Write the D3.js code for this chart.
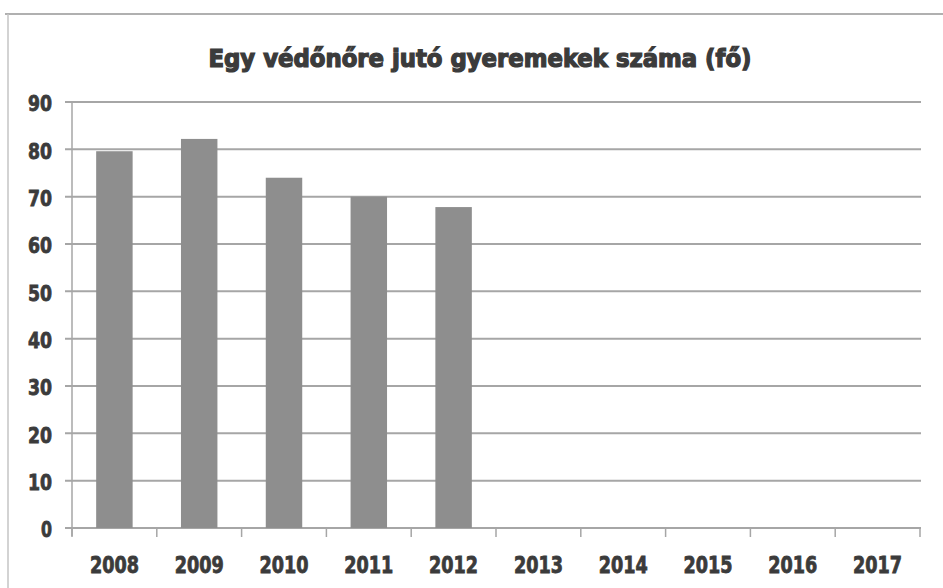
<!DOCTYPE html>
<html>
<head>
<meta charset="utf-8">
<script src="https://cdn.jsdelivr.net/npm/d3@7"></script>
<style>
  html, body { margin: 0; padding: 0; background: #fff; }
  svg { display: block; }
</style>
</head>
<body>
<svg id="chart" width="943" height="588"></svg>
<script>
// data
var years = ["2008", "2009", "2010", "2011", "2012", "2013", "2014", "2015", "2016", "2017"];
var values = [79.6, 82.2, 74, 70, 67.8, null, null, null, null, null];
var yTicks = [0, 10, 20, 30, 40, 50, 60, 70, 80, 90];
var title = "Egy védőnőre jutó gyeremekek száma (fő)";

var svg = d3.select("#chart");
var font = "'DejaVu Sans Condensed', 'DejaVu Sans', sans-serif";
var textColor = "#3b3b3b";
var lineColor = "#a6a6a6";

// plot area edges (not "top" — that's window.top)
var plotL = 72, plotR = 920, plotT = 102, plotB = 528;

var x = d3.scaleBand().domain(years).range([plotL, plotR]).paddingInner(0.57).paddingOuter(0.285);
var y = d3.scaleLinear().domain([0, 90]).range([plotB, plotT]);

// chart frame (top + left edges are what's visible)
svg.append("line").attr("x1", 5).attr("x2", 943).attr("y1", 14).attr("y2", 14)
  .attr("stroke", "#b0b0b0").attr("stroke-width", 2);
svg.append("line").attr("x1", 8).attr("x2", 8).attr("y1", 14).attr("y2", 588)
  .attr("stroke", "#c4c4c4").attr("stroke-width", 1.5);

// title
svg.append("text")
  .attr("x", 480).attr("y", 67)
  .attr("text-anchor", "middle")
  .attr("textLength", 543).attr("lengthAdjust", "spacingAndGlyphs")
  .style("font-family", font).style("font-weight", "bold").style("font-size", "24px")
  .style("fill", textColor).style("stroke", textColor).style("stroke-width", 1.2)
  .text(title);

// gridlines
svg.append("g").selectAll("line")
  .data(yTicks)
  .join("line")
  .attr("x1", plotL - 7).attr("x2", plotR + 1)
  .attr("y1", function (d) { return y(d); }).attr("y2", function (d) { return y(d); })
  .attr("stroke", lineColor).attr("stroke-width", 2);

// y axis line
svg.append("line").attr("x1", plotL).attr("x2", plotL).attr("y1", plotT).attr("y2", plotB + 8)
  .attr("stroke", lineColor).attr("stroke-width", 1.5);

// y labels
var yAxis = svg.append("g")
  .attr("transform", "translate(" + plotL + ",0)")
  .call(d3.axisLeft(y).tickValues(yTicks).tickSize(0).tickPadding(20));
yAxis.select(".domain").remove();
yAxis.selectAll("text")
  .attr("dy", "0.4em")
  .style("font-family", font).style("font-weight", "bold").style("font-size", "22px")
  .style("fill", textColor).style("stroke", textColor).style("stroke-width", 0.8)
  .attr("textLength", function (d) { return String(d).length === 1 ? 11 : 24; })
  .attr("lengthAdjust", "spacingAndGlyphs");

// bars
svg.append("g").selectAll("rect")
  .data(years.map(function (d, i) { return { key: d, value: values[i] }; }).filter(function (d) { return d.value != null; }))
  .join("rect")
  .attr("x", function (d) { return x(d.key); })
  .attr("y", function (d) { return y(d.value); })
  .attr("width", x.bandwidth())
  .attr("height", function (d) { return plotB - y(d.value); })
  .style("fill", "#8e8e8e");

// x axis ticks at category boundaries
var bounds = years.map(function (d) { return x(d) - x.step() * x.paddingOuter(); });
bounds.push(plotR);
svg.append("g").selectAll("line")
  .data(bounds)
  .join("line")
  .attr("x1", function (d) { return d; }).attr("x2", function (d) { return d; })
  .attr("y1", plotB).attr("y2", plotB + 9)
  .attr("stroke", lineColor).attr("stroke-width", 1.5);

// x labels
var xAxis = svg.append("g")
  .attr("transform", "translate(0," + plotB + ")")
  .call(d3.axisBottom(x).tickSize(0).tickPadding(37));
xAxis.select(".domain").remove();
xAxis.selectAll("text")
  .attr("dy", "0.36em")
  .style("font-family", font).style("font-weight", "bold").style("font-size", "23px")
  .style("fill", textColor).style("stroke", textColor).style("stroke-width", 0.8)
  .attr("textLength", 49).attr("lengthAdjust", "spacingAndGlyphs");
</script>
</body>
</html>
